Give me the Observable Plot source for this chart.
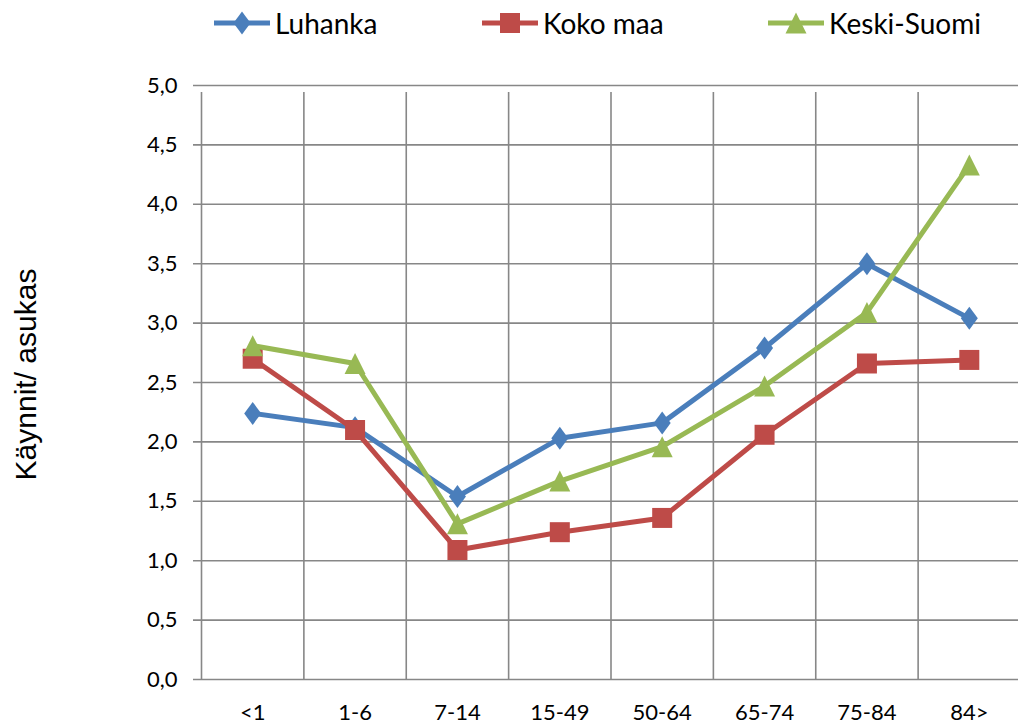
<!DOCTYPE html>
<html>
<head>
<meta charset="utf-8">
<script src="https://cdn.jsdelivr.net/npm/d3@7"></script>
<script src="https://cdn.jsdelivr.net/npm/@observablehq/plot@0.6"></script>
<style>
  html, body { margin: 0; padding: 0; background: #fff; }
  #wrap { position: relative; width: 1018px; height: 726px; overflow: hidden; }
  #legend { position: relative; height: 48px; }
  .item { position: absolute; top: 0; height: 46px; display: flex; align-items: center; font-family: Lato, "Open Sans", sans-serif; font-size: 28px; color: #000; }
  .item svg { display: block; margin-right: 5px; }
</style>
</head>
<body>
<div id="wrap">
  <div id="legend"></div>
  <div id="chart"></div>
</div>
<script>
// ---- data ----
const ages = ["<1", "1-6", "7-14", "15-49", "50-64", "65-74", "75-84", "84>"];
const seriesNames = ["Luhanka", "Koko maa", "Keski-Suomi"];
const luhanka    = [2.24, 2.12, 1.54, 2.03, 2.16, 2.79, 3.50, 3.04];
const kokoMaa    = [2.70, 2.10, 1.09, 1.24, 1.36, 2.06, 2.66, 2.69];
const keskiSuomi = [2.81, 2.66, 1.31, 1.67, 1.96, 2.47, 3.09, 4.33];
const yTicks = [0, 0.5, 1, 1.5, 2, 2.5, 3, 3.5, 4, 4.5, 5];
const yTitle = "Käynnit/ asukas";

const colors = ["#4A7EBB", "#BE4B48", "#98B954"];

// custom marker shapes (r = 10 reference)
function mk(points) {
  return {
    draw(ctx, size) {
      const s = Math.sqrt(size / Math.PI) / 10;
      points.forEach(([x, y], k) => k ? ctx.lineTo(x * s, y * s) : ctx.moveTo(x * s, y * s));
      ctx.closePath();
    }
  };
}
const diamond = mk([[0, -11.5], [8.5, 0], [0, 11.5], [-8.5, 0]]);
const square = mk([[-10, -10], [10, -10], [10, 10], [-10, 10]]);
const triangle = mk([[0, -10.5], [10.5, 10.5], [-10.5, 10.5]]);
const symbols = [diamond, square, triangle];

const valuesBySeries = [luhanka, kokoMaa, keskiSuomi];
const rows = seriesNames.flatMap((s, si) =>
  valuesBySeries[si].map((v, i) => ({series: s, i, age: ages[i], v})));

const fmt = d => d.toFixed(1).replace(".", ",");
const bounds = d3.range(ages.length + 1).map(k => k - 0.5);

const marks = [
  Plot.ruleY(yTicks, {stroke: "#878787", strokeWidth: 1.6, insetLeft: -8}),
  Plot.ruleX(bounds, {y1: 0, y2: 5, stroke: "#878787", strokeWidth: 1.6, insetBottom: -7}),
  Plot.axisY({ticks: yTicks, tickFormat: fmt, tickSize: 0, tickPadding: 24, label: null, fontSize: 22}),
  Plot.axisX({ticks: d3.range(ages.length), tickFormat: i => ages[i], tickSize: 0, tickPadding: 25, label: null, fontSize: 22}),
  Plot.text([yTitle], {frameAnchor: "left", textAnchor: "middle", dx: -175, dy: -8, rotate: -90, fontSize: 30, fontFamily: "'Liberation Sans', Arial, sans-serif", fill: "#000"})
];
seriesNames.forEach((s, si) => {
  const d = rows.filter(r => r.series === s);
  marks.push(Plot.line(d, {x: "i", y: "v", stroke: colors[si], strokeWidth: 5}));
  marks.push(Plot.dot(d, {x: "i", y: "v", fill: colors[si], stroke: "none", symbol: symbols[si], r: 10}));
});

const chart = Plot.plot({
  width: 1018,
  height: 678,
  marginTop: 37,
  marginBottom: 47,
  marginLeft: 201,
  marginRight: -2,
  style: {fontFamily: "Lato, 'Open Sans', sans-serif", fontSize: "22px", color: "#000", background: "#fff"},
  x: {type: "linear", domain: [-0.5, ages.length - 0.5], axis: null},
  y: {domain: [0, 5], axis: null},
  marks
});
document.getElementById("chart").appendChild(chart);

// legend
const legendLeft = [214, 482, 768];
const legend = document.getElementById("legend");
seriesNames.forEach((s, si) => {
  const item = document.createElement("div");
  item.className = "item";
  item.style.left = legendLeft[si] + "px";
  const svg = d3.create("svg").attr("width", 56).attr("height", 30);
  svg.append("line").attr("x1", 0).attr("x2", 56).attr("y1", 15).attr("y2", 15)
    .attr("stroke", colors[si]).attr("stroke-width", 5).attr("stroke-linecap", "round");
  svg.append("path").attr("transform", "translate(28,15)")
    .attr("d", d3.symbol(symbols[si], Math.PI * 100)()).attr("fill", colors[si]);
  item.appendChild(svg.node());
  const t = document.createElement("span");
  t.textContent = s;
  item.appendChild(t);
  legend.appendChild(item);
});
</script>
</body>
</html>
